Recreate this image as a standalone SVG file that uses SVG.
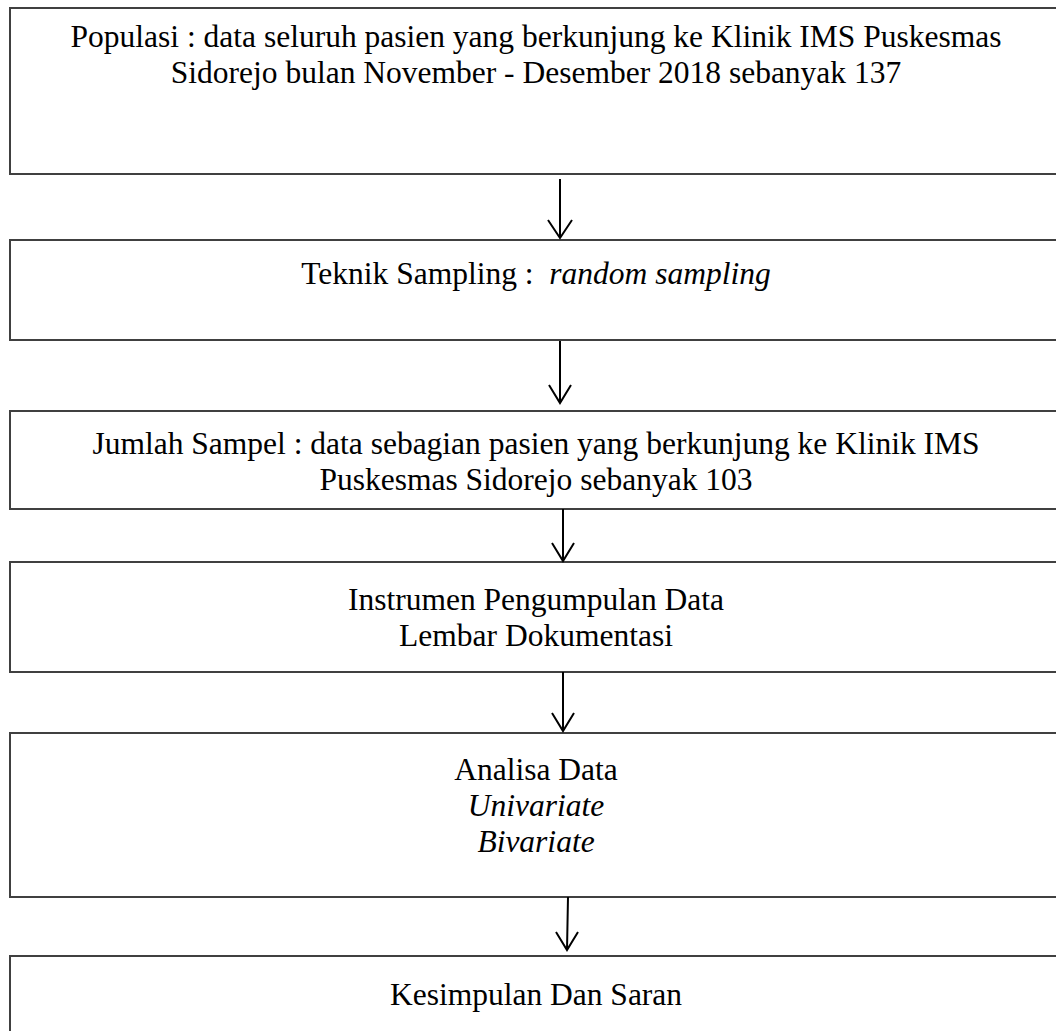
<svg xmlns="http://www.w3.org/2000/svg" width="1056" height="1031" viewBox="0 0 1056 1031">
<style>
.box{fill:#fff;stroke:#404040;stroke-width:2}
.t{font-family:"Liberation Serif","Times New Roman",serif;font-size:31.5px;fill:#000;text-anchor:middle}
.i{font-style:italic}
.arr{stroke:#000;stroke-width:2;fill:none}
</style>
<rect width="1056" height="1031" fill="#fff"/>
<g id="n1"><rect class="box" x="10" y="8" width="1052" height="166"/>
<text class="t" x="536" y="47">Populasi : data seluruh pasien yang berkunjung ke Klinik IMS Puskesmas</text>
<text class="t" x="536" y="83">Sidorejo bulan November - Desember 2018 sebanyak 137</text></g>
<g id="n2"><rect class="box" x="10" y="240" width="1052" height="100"/>
<text class="t" x="536" y="284" xml:space="preserve">Teknik Sampling :  <tspan class="i">random sampling</tspan></text></g>
<g id="n3"><rect class="box" x="10" y="411" width="1052" height="98"/>
<text class="t" x="536" y="454">Jumlah Sampel : data sebagian pasien yang berkunjung ke Klinik IMS</text>
<text class="t" x="536" y="490">Puskesmas Sidorejo sebanyak 103</text></g>
<g id="n4"><rect class="box" x="10" y="562" width="1052" height="110"/>
<text class="t" x="536" y="610">Instrumen Pengumpulan Data</text>
<text class="t" x="536" y="646">Lembar Dokumentasi</text></g>
<g id="n5"><rect class="box" x="10" y="733" width="1052" height="164"/>
<text class="t" x="536" y="780">Analisa Data</text>
<text class="t i" x="536" y="816">Univariate</text>
<text class="t i" x="536" y="852">Bivariate</text></g>
<g id="n6"><rect class="box" x="10" y="956" width="1052" height="100"/>
<text class="t" x="536" y="1005">Kesimpulan Dan Saran</text></g>
<g id="connectors">
<path class="arr" d="M560 179V238M548 220L560 238L572 220"/>
<path class="arr" d="M560 341V403M549 385L560 403L571 385"/>
<path class="arr" d="M563 509V561M552 543L563 561L574 543"/>
<path class="arr" d="M563 672V731M552 713L563 731L574 713"/>
<path class="arr" d="M568 897L567 950M556 932L567 950L578 932"/>
</g>
</svg>
